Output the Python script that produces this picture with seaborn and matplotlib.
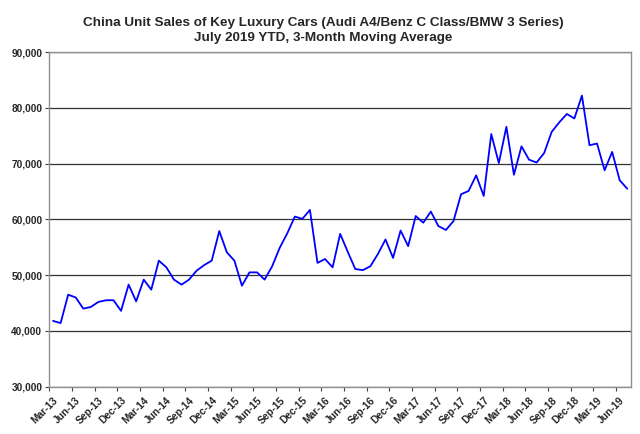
import matplotlib
matplotlib.use("Agg")
import matplotlib.pyplot as plt
import matplotlib.transforms as mtransforms
import seaborn as sns
import pandas as pd
import numpy as np
from matplotlib.ticker import FuncFormatter, FixedLocator

# Monthly 3-month moving average, Mar-2013 .. Jul-2019 (77 months)
sales = [
    41800, 41400, 46500, 46000, 44000, 44300, 45200, 45500, 45500, 43600,
    48300, 45300, 49200, 47400, 52600, 51400, 49200, 48300, 49200, 50800,
    51800, 52600, 57900, 54100, 52600, 48100, 50500, 50500, 49200, 51600,
    54900, 57500, 60500, 60100, 61700, 52200, 52900, 51400, 57400, 54200,
    51100, 50900, 51600, 53800, 56400, 53100, 58000, 55200, 60600, 59400,
    61400, 58800, 58100, 59700, 64500, 65100, 67900, 64200, 75300, 70100,
    76600, 68000, 73100, 70700, 70200, 71900, 75700, 77400, 78900, 78100,
    82200, 73300, 73600, 68800, 72100, 67000, 65500,
]
tick_labels = [
    "Mar-13", "Jun-13", "Sep-13", "Dec-13", "Mar-14", "Jun-14", "Sep-14",
    "Dec-14", "Mar-15", "Jun-15", "Sep-15", "Dec-15", "Mar-16", "Jun-16",
    "Sep-16", "Dec-16", "Mar-17", "Jun-17", "Sep-17", "Dec-17", "Mar-18",
    "Jun-18", "Sep-18", "Dec-18", "Mar-19", "Jun-19",
]
y_ticks = [30000, 40000, 50000, 60000, 70000, 80000, 90000]

df = pd.DataFrame({"month": np.arange(len(sales)), "sales": sales})

sns.set_theme(style="white")
plt.rcParams["font.family"] = ["Liberation Sans", "DejaVu Sans"]

fig = plt.figure(figsize=(6.4, 4.34), dpi=100)
ax = fig.add_axes([0.077, 0.109, 0.909, 0.771])

sns.lineplot(data=df, x="month", y="sales", ax=ax, color="#0000FF",
             linewidth=1.3)

ax.set_xlim(-0.5, len(sales) - 0.5)
ax.set_ylim(30000, 90000)
ax.set_yticks(y_ticks)
ax.yaxis.set_major_formatter(FuncFormatter(lambda v, p: f"{int(v):,}"))
ax.grid(axis="y", color="#333333", linewidth=0.9)
ax.set_axisbelow(True)

ax.set_xticks(np.arange(0, len(sales), 3))
ax.set_xticklabels(tick_labels, rotation=45, ha="right",
                   rotation_mode="anchor", fontsize=7.3, fontweight="bold")
offset = mtransforms.ScaledTranslation(-5 / 72, -1 / 72, fig.dpi_scale_trans)
for lab in ax.get_xticklabels():
    lab.set_transform(lab.get_transform() + offset)
ax.xaxis.set_minor_locator(FixedLocator(np.arange(-0.5, len(sales), 3)))
ax.tick_params(axis="x", which="major", length=0, pad=6)
ax.tick_params(axis="x", which="minor", length=3, width=0.8, color="#404040",
               direction="out", bottom=True)
ax.tick_params(axis="y", which="major", length=3, width=0.8, color="#404040",
               direction="out", left=True, labelsize=7.3, pad=2)
for lab in ax.get_yticklabels():
    lab.set_fontweight("bold")

ax.set_xlabel("")
ax.set_ylabel("")
for side, sp in ax.spines.items():
    sp.set_visible(True)
    sp.set_color("#909090")
    sp.set_linewidth(1.0)

fig.text(0.505, 0.930,
         "China Unit Sales of Key Luxury Cars (Audi A4/Benz C Class/BMW 3 Series)\n"
         "July 2019 YTD, 3-Month Moving Average",
         ha="center", va="center", fontsize=9.7, fontweight="bold",
         linespacing=1.35)

fig.savefig("out.png", dpi=100, facecolor="white")
